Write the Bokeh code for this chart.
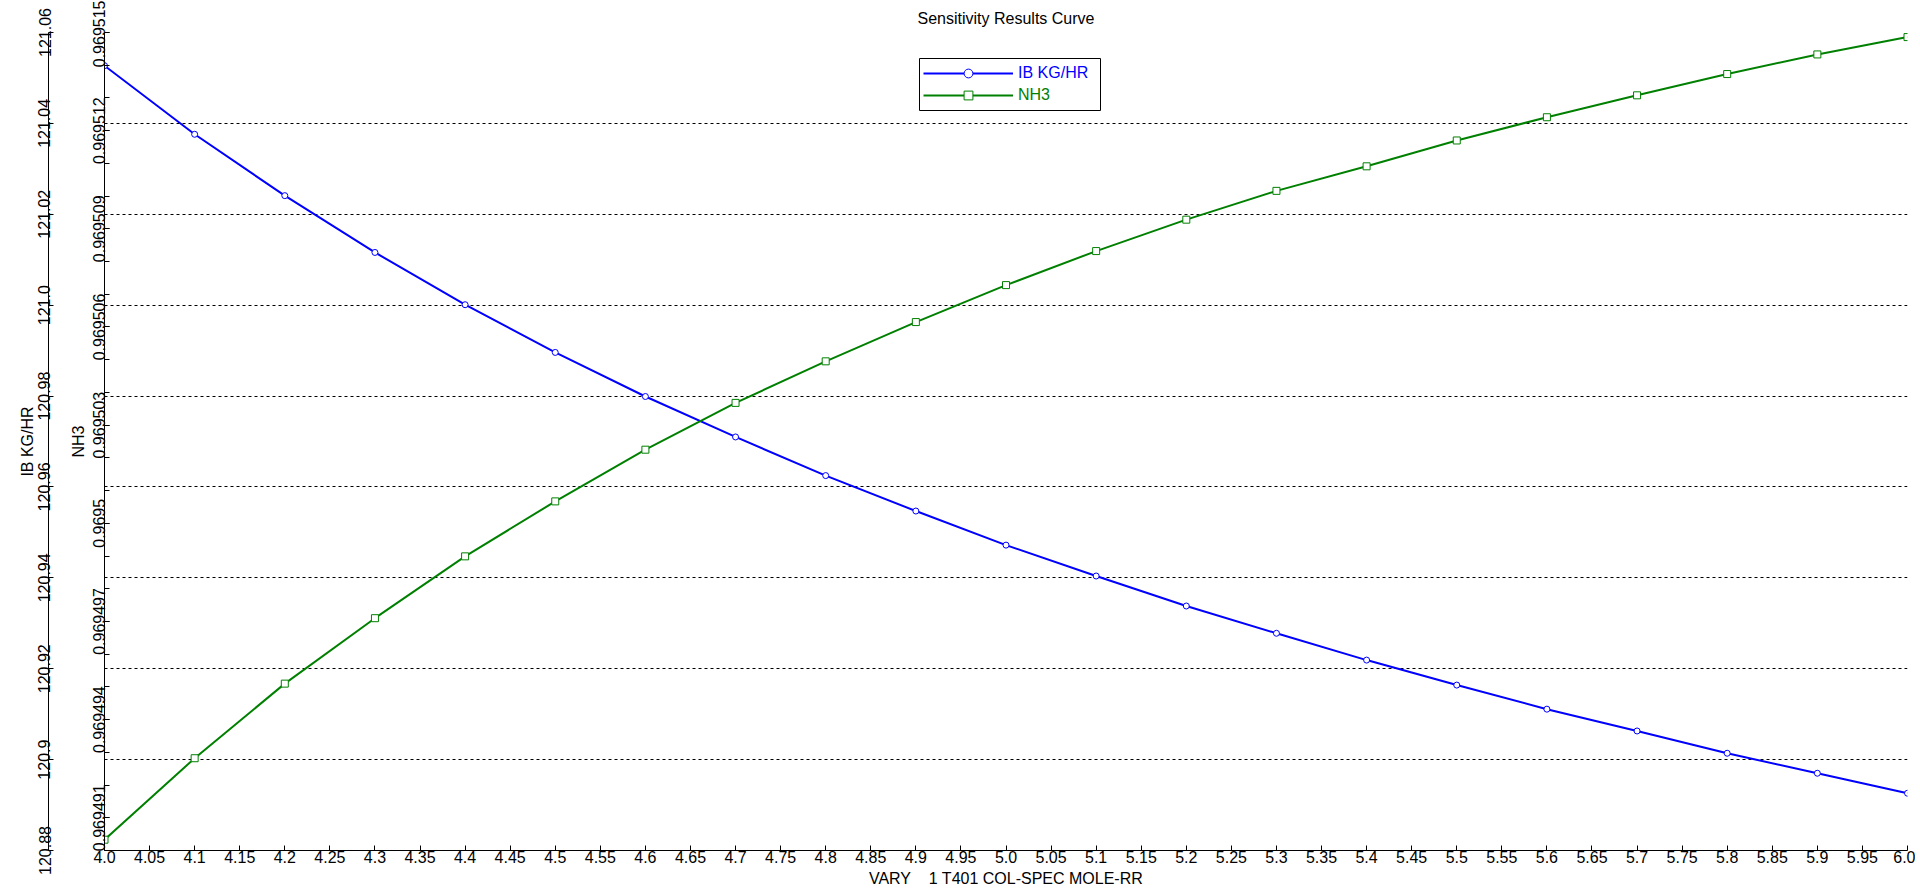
from bokeh.plotting import figure
from bokeh.models import (Range1d, LinearAxis, FixedTicker, SingleIntervalTicker,
                          CustomJSTickFormatter, Legend, LegendItem, BoxAnnotation)
from bokeh.core.properties import value
from bokeh.embed import file_html
from bokeh.resources import INLINE

# ---- data ----
vary_rr = [4.0, 4.1, 4.2, 4.3, 4.4, 4.5, 4.6, 4.7, 4.8, 4.9, 5.0,
           5.1, 5.2, 5.3, 5.4, 5.5, 5.6, 5.7, 5.8, 5.9, 6.0]
ib_kg_hr = [121.0527, 121.0376, 121.0241, 121.0116, 121.0001, 120.9896, 120.9799,
            120.9710, 120.9625, 120.9547, 120.9472, 120.9404, 120.9338, 120.9278,
            120.9219, 120.9164, 120.9111, 120.9063, 120.9014, 120.8970, 120.8926]
nh3 = [0.96949033, 0.96949282, 0.96949510, 0.96949710, 0.96949899, 0.96950067,
       0.96950225, 0.96950368, 0.96950495, 0.96950615, 0.96950728, 0.96950832,
       0.96950928, 0.96951016, 0.96951091, 0.96951170, 0.96951241, 0.96951308,
       0.96951373, 0.96951433, 0.96951486]

x_range_limits = (4.0, 6.0)
ib_range_limits = (120.88, 121.06)
nh3_range_limits = (0.969490, 0.969515)
nh3_major_ticks = [0.969491, 0.969494, 0.969497, 0.969500, 0.969503,
                   0.969506, 0.969509, 0.969512, 0.969515]
nh3_minor_ticks = [round(0.969490 + i * 1e-6, 6) for i in range(26)]

FONT = "Liberation Sans"
BLUE = "#0000FF"
GREEN = "#008000"

fmt_code = """
let s = tick.toFixed(6).replace(/0+$/, '');
if (s.endsWith('.')) s += '0';
return s;
"""

p = figure(width=1915, height=890, output_backend="svg", toolbar_location=None,
           x_range=Range1d(*x_range_limits), y_range=Range1d(*ib_range_limits),
           title="Sensitivity Results Curve",
           min_border_left=104, min_border_right=8, min_border_top=32, min_border_bottom=40)
p.extra_y_ranges = {"nh3": Range1d(*nh3_range_limits)}
p.outline_line_color = None
p.background_fill_color = "white"
p.border_fill_color = "white"

p.title.text_font = FONT
p.title.text_font_size = "16px"
p.title.text_font_style = "normal"
p.title.text_color = "black"
p.title.align = "center"
p.title.standoff = 12


def style_axis(ax):
    ax.axis_line_color = "black"
    ax.axis_line_width = 1
    ax.major_tick_in = 5
    ax.major_tick_out = 0
    ax.minor_tick_in = 5
    ax.minor_tick_out = 0
    ax.major_tick_line_color = "black"
    ax.minor_tick_line_color = "black"
    ax.major_label_text_font = FONT
    ax.major_label_text_font_size = "16px"
    ax.major_label_text_color = "black"
    ax.major_label_text_line_height = 1.0
    ax.axis_label_text_font = FONT
    ax.axis_label_text_font_size = "16px"
    ax.axis_label_text_font_style = "normal"
    ax.axis_label_text_color = "black"
    ax.axis_label_text_line_height = 1.0
    ax.formatter = CustomJSTickFormatter(code=fmt_code)


# x axis
xa = p.xaxis[0]
style_axis(xa)
xa.ticker = SingleIntervalTicker(interval=0.05, num_minor_ticks=0)
xa.axis_label = "VARY\u00a0\u00a0\u00a0\u00a01 T401 COL-SPEC MOLE-RR"
xa.major_label_standoff = 0
xa.axis_label_standoff = 4

# inner left axis: NH3
ya = p.yaxis[0]
ya.y_range_name = "nh3"
style_axis(ya)
ya.ticker = FixedTicker(ticks=nh3_major_ticks, minor_ticks=nh3_minor_ticks)
ya.axis_label = "NH3"
ya.major_label_orientation = "vertical"
ya.major_label_standoff = -1
ya.axis_label_standoff = 4

# spacer axis between the two y axes: one white (invisible) tick gives it width
spacer = LinearAxis(ticker=FixedTicker(ticks=[121.0]), axis_line_color=None,
                    major_tick_out=18, major_tick_in=0, minor_tick_out=0, minor_tick_in=0,
                    major_tick_line_color="white", minor_tick_line_color=None,
                    major_label_standoff=0, axis_label=None,
                    formatter=CustomJSTickFormatter(code="return '';"))
p.add_layout(spacer, "left")

# outer left axis: IB KG/HR
ib_axis = LinearAxis(ticker=SingleIntervalTicker(interval=0.02, num_minor_ticks=0))
style_axis(ib_axis)
ib_axis.axis_label = "IB KG/HR"
ib_axis.major_label_orientation = "vertical"
ib_axis.major_label_standoff = -2
ib_axis.axis_label_standoff = 0
p.add_layout(ib_axis, "left")

# grid
p.xgrid.visible = False
g = p.ygrid[0]
g.ticker = SingleIntervalTicker(interval=0.02, num_minor_ticks=0)
g.grid_line_color = "black"
g.grid_line_dash = "3 3"
g.grid_line_width = 1

# series
ib_line = p.line(vary_rr, ib_kg_hr, line_color=BLUE, line_width=2)
ib_pts = p.scatter(vary_rr, ib_kg_hr, marker="circle", size=6, line_color=BLUE,
                   fill_color="white", line_width=1)
nh3_line = p.line(vary_rr, nh3, y_range_name="nh3", line_color=GREEN, line_width=2)
nh3_pts = p.scatter(vary_rr, nh3, y_range_name="nh3", marker="square", size=7,
                    line_color=GREEN, fill_color="white", line_width=1)

# legend: a framed box with two single-item legends inside
box = BoxAnnotation(left=815, right=996, bottom=740, top=792,
                    left_units="screen", right_units="screen",
                    bottom_units="screen", top_units="screen",
                    fill_color="white", fill_alpha=1.0,
                    line_color="black", line_width=1, line_alpha=1.0)
p.add_layout(box)

common = dict(orientation="vertical", padding=0, spacing=0, margin=0,
              glyph_width=90, glyph_height=22, label_height=22, label_width=78,
              label_standoff=5, label_text_font=FONT, label_text_font_size="16px",
              border_line_color=None, background_fill_alpha=0.0)
leg_ib = Legend(items=[LegendItem(label=value("IB KG/HR"), renderers=[ib_line, ib_pts])],
                location=(819, 766), label_text_color=BLUE, **common)
leg_nh3 = Legend(items=[LegendItem(label=value("NH3"), renderers=[nh3_line, nh3_pts])],
                 location=(819, 744), label_text_color=GREEN, **common)
p.add_layout(leg_ib)
p.add_layout(leg_nh3)

open("out.html", "w").write(file_html(p, INLINE))
